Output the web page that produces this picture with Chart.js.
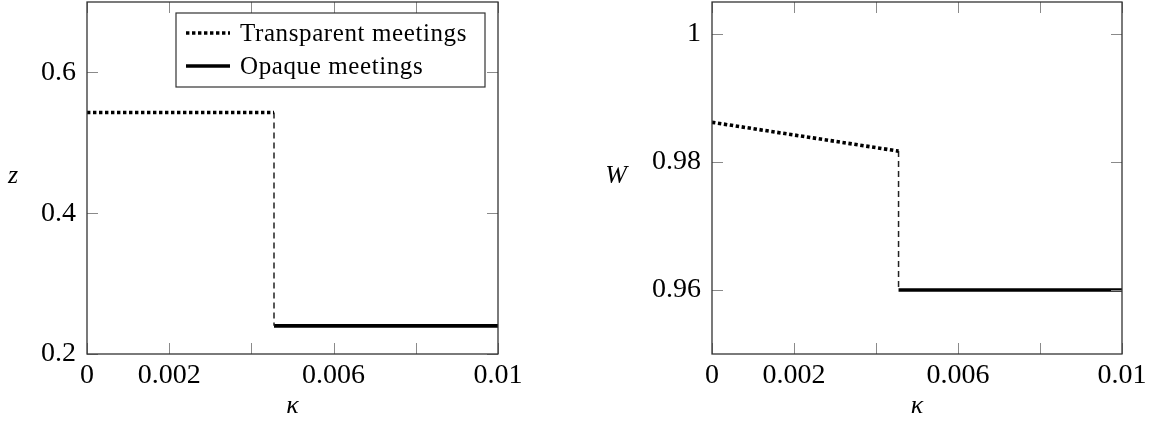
<!DOCTYPE html>
<html><head><meta charset="utf-8">
<script src="https://cdn.jsdelivr.net/npm/chart.js@4.4.0/dist/chart.umd.min.js"></script>
<style>
html,body{margin:0;padding:0;background:#fff;}
#wrap{position:relative;width:1153px;height:423px;overflow:hidden;}
.c{position:absolute;top:0;height:423px;}
</style></head><body>
<div id="wrap">
<div class="c" style="left:0;width:576px"><canvas id="c1"></canvas></div>
<div class="c" style="left:576px;width:577px"><canvas id="c2"></canvas></div>
</div>
<script>
// ---- data ----
const kappaJump = 0.00455;
const kappaTransparent = [0, 0.00455];
const kappaOpaque = [0.00455, 0.01];
const zTransparent = [0.543, 0.543];
const zOpaque = [0.24, 0.24];
const wTransparent = [0.9862, 0.9817];
const wOpaque = [0.96, 0.96];
const xTicks = [0, 0.002, 0.004, 0.006, 0.008, 0.01];
const xTickLabels = ['0', '0.002', '', '0.006', '', '0.01'];
const zTicks = [0.2, 0.4, 0.6];
const zTickLabels = ['0.2', '0.4', '0.6'];
const wTicks = [0.96, 0.98, 1];
const wTickLabels = ['0.96', '0.98', '1'];
const seriesNames = ['Transparent meetings', 'Opaque meetings'];
const xTitle = 'κ';

const TICK_FONT = {family: '"Liberation Serif", serif', size: 28};

const framePlugin = {
  id: 'frame',
  afterDraw(chart, args, opts) {
    const {ctx, chartArea: a, scales: {x, y}} = chart;
    ctx.save();
    ctx.strokeStyle = '#8a8a8a';
    ctx.lineWidth = 1;
    const L = 11;
    ctx.beginPath();
    x.ticks.forEach(t => {
      const px = Math.round(x.getPixelForValue(t.value)) + 0.5;
      ctx.moveTo(px, a.bottom); ctx.lineTo(px, a.bottom - L);
      ctx.moveTo(px, a.top); ctx.lineTo(px, a.top + L);
    });
    y.ticks.forEach(t => {
      const py = Math.round(y.getPixelForValue(t.value)) + 0.5;
      ctx.moveTo(a.left, py); ctx.lineTo(a.left + L, py);
      ctx.moveTo(a.right, py); ctx.lineTo(a.right - L, py);
    });
    ctx.stroke();
    ctx.strokeStyle = '#333';
    ctx.lineWidth = 1.3;
    ctx.strokeRect(a.left, a.top, a.right - a.left, a.bottom - a.top);

    ctx.fillStyle = '#000';
    ctx.font = 'italic 26px "Liberation Serif", serif';
    ctx.textAlign = 'center';
    ctx.textBaseline = 'middle';
    ctx.fillText(opts.yTitle, opts.yTitleX, opts.yTitleY);
    ctx.fillText(xTitle, (a.left + a.right) / 2, 406);

    if (opts.legend) {
      const bx = a.left + 89, by = a.top + 11, bw = a.right - 13 - bx, bh = 74;
      ctx.fillStyle = '#fff';
      ctx.fillRect(bx, by, bw, bh);
      ctx.strokeStyle = '#333';
      ctx.lineWidth = 1.2;
      ctx.strokeRect(bx, by, bw, bh);
      const ds = [chart.data.datasets[0], chart.data.datasets[2]];
      ds.forEach((d, i) => {
        const ly = by + 20 + i * 33;
        ctx.beginPath();
        ctx.strokeStyle = d.borderColor;
        ctx.lineWidth = d.borderWidth;
        ctx.setLineDash(d.borderDash || []);
        ctx.moveTo(bx + 10, ly); ctx.lineTo(bx + 54, ly);
        ctx.stroke();
        ctx.setLineDash([]);
        ctx.fillStyle = '#000';
        ctx.font = '25px "Liberation Serif", serif';
        ctx.letterSpacing = '0.6px';
        ctx.textAlign = 'left';
        ctx.textBaseline = 'middle';
        ctx.fillText(seriesNames[i], bx + 64, ly + 1);
      });
    }
    ctx.restore();
  }
};

function pts(xs, ys) { return xs.map((v, i) => ({x: v, y: ys[i]})); }

function makeChart(id, tr, op, yMin, yMax, yTicks, yLabels, leftW, rightPad, frameOpts) {
  return new Chart(document.getElementById(id), {
    type: 'line',
    data: {
      datasets: [
        {label: seriesNames[0], data: pts(kappaTransparent, tr), borderColor: '#000', borderWidth: 3.6, borderDash: [3.4, 2.6], pointRadius: 0, tension: 0},
        {label: 'jump', data: pts([kappaJump, kappaJump], [tr[tr.length - 1], op[0]]), borderColor: '#222', borderWidth: 1.5, borderDash: [6, 4], pointRadius: 0},
        {label: seriesNames[1], data: pts(kappaOpaque, op), borderColor: '#000', borderWidth: 3.6, pointRadius: 0}
      ]
    },
    options: {
      responsive: true,
      maintainAspectRatio: false,
      animation: false,
      events: [],
      layout: {padding: {top: 2, right: rightPad, left: 0, bottom: 0}},
      plugins: {legend: {display: false}, tooltip: {enabled: false}, frame: frameOpts},
      scales: {
        x: {
          type: 'linear', min: 0, max: 0.01,
          grid: {display: false, drawTicks: false},
          border: {display: false},
          afterBuildTicks: s => { s.ticks = xTicks.map(v => ({value: v})); },
          afterFit: s => { s.height = 69; s.paddingLeft = 0; s.paddingRight = 0; },
          ticks: {
            autoSkip: false, maxRotation: 0, padding: 5, color: '#000', font: TICK_FONT,
            callback: (v, i) => xTickLabels[i]
          }
        },
        y: {
          type: 'linear', min: yMin, max: yMax,
          grid: {display: false, drawTicks: false},
          border: {display: false},
          afterBuildTicks: s => { s.ticks = yTicks.map(v => ({value: v})); },
          afterFit: s => { s.width = leftW; s.paddingTop = 0; s.paddingBottom = 0; },
          ticks: {
            autoSkip: false, padding: 11, color: '#000', font: TICK_FONT,
            callback: (v, i) => yLabels[i]
          }
        }
      }
    },
    plugins: [framePlugin]
  });
}

makeChart('c1', zTransparent, zOpaque, 0.2, 0.7, zTicks, zTickLabels, 87, 78,
  {yTitle: 'z', yTitleX: 13, yTitleY: 176, legend: true});
makeChart('c2', wTransparent, wOpaque, 0.95, 1.005, wTicks, wTickLabels, 136, 31,
  {yTitle: 'W', yTitleX: 40, yTitleY: 176, legend: false});
</script>
</body></html>
